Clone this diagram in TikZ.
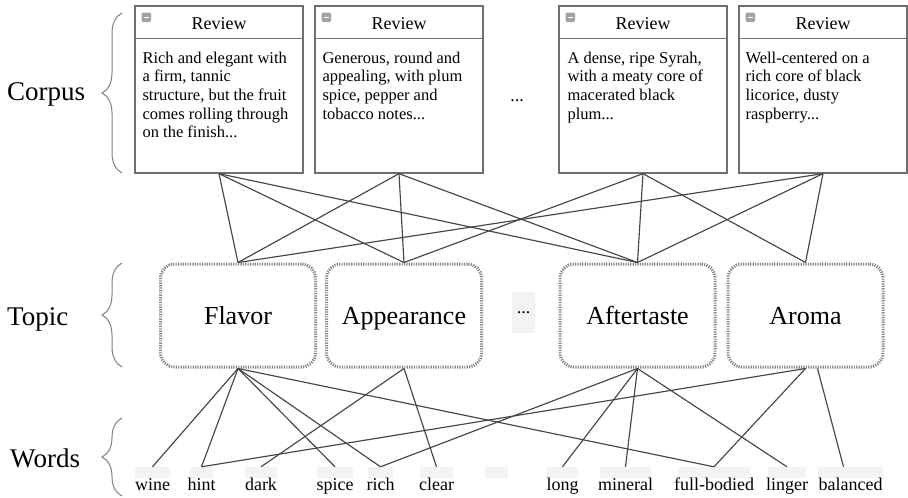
\documentclass[tikz,border=0pt]{standalone}
\usepackage{fontspec}
\setmainfont{Liberation Serif}
\usetikzlibrary{decorations.pathreplacing,calc}
\definecolor{edgec}{HTML}{454545}
\definecolor{boxc}{HTML}{707070}
\definecolor{dashc}{HTML}{858585}
\definecolor{faint}{HTML}{F3F3F3}
\definecolor{iconc}{HTML}{A2A2A2}
\definecolor{bracec}{HTML}{808080}
\begin{document}
\begin{tikzpicture}[x=1pt,y=-1pt,
  review/.style={draw=boxc,line width=1.3pt,fill=white,minimum width=168pt,minimum height=167pt,inner sep=0pt},
  hline/.style={draw=boxc,line width=1.3pt},
  icon/.style={fill=iconc,rounded corners=1.5pt,minimum size=9.5pt,inner sep=0pt,
    path picture={\draw[white,line width=1.1pt] ($(path picture bounding box.west)+(2.2pt,0)$) -- ($(path picture bounding box.east)+(-2.2pt,0)$);}},
  rtitle/.style={anchor=base,inner sep=0pt,font=\fontsize{18}{20}\selectfont},
  rbody/.style={anchor=north west,inner sep=0pt,align=left,font=\fontsize{16.5}{18.7}\selectfont},
  topic/.style={draw=dashc,line width=3pt,dash pattern=on 1.2pt off 1.2pt,rounded corners=14pt,fill=white,
    minimum width=155pt,minimum height=103pt,inner sep=0pt,text height=17pt,text depth=0pt,font=\fontsize{26}{28}\selectfont},
  dotsq/.style={fill=faint,minimum width=23pt,minimum height=41pt,inner sep=0pt,font=\fontsize{18}{20}\selectfont},
  dotsc/.style={inner sep=0pt,font=\fontsize{18}{20}\selectfont},
  wslot/.style={fill=faint,minimum height=11pt,inner sep=0pt},
  wtext/.style={anchor=base,inner sep=0pt,font=\fontsize{18}{20}\selectfont},
  label/.style={anchor=base west,inner sep=0pt,font=\fontsize{27}{30}\selectfont},
  bracel/.style={draw=bracec,line width=1pt,decorate,decoration={brace,amplitude=20pt}},
  edge/.style={draw=edgec,line width=1.15pt}
]
\useasboundingbox (0,0) rectangle (908,498);

% labels and braces
\node[label] (lcorpus) at (7,100) {Corpus};
\node[label] (ltopic) at (7,325) {Topic};
\node[label] (lwords) at (10,467) {Words};
\coordinate (b1s) at (122,173); \coordinate (b1e) at (122,13);
\coordinate (b2s) at (122,367); \coordinate (b2e) at (122,263);
\coordinate (b3s) at (122,496); \coordinate (b3e) at (122,418);
\draw[bracel] (b1s) -- (b1e);
\draw[bracel] (b2s) -- (b2e);
\draw[bracel] (b3s) -- (b3e);

% review boxes
\node[review] (r1) at (219,89.5) {};
\node[review] (r2) at (399,89.5) {};
\node[review] (r3) at (643,89.5) {};
\node[review] (r4) at (823,89.5) {};
\foreach \r in {r1,r2,r3,r4}{
  \draw[hline] ($(\r.north west)+(0,33)$) -- ($(\r.north east)+(0,33)$);
  \node[icon] (\r icon) at ($(\r.north west)+(12,12)$) {};
  \node[rtitle] (\r title) at ($(\r.north)+(0,24)$) {Review};
}
\node[rbody] (r1body) at ($(r1.north west)+(8,46)$) {Rich and elegant with\\a firm, tannic\\structure, but the fruit\\comes rolling through\\on the finish...};
\node[rbody] (r2body) at ($(r2.north west)+(8,46)$) {Generous, round and\\appealing, with plum\\spice, pepper and\\tobacco notes...};
\node[rbody] (r3body) at ($(r3.north west)+(9,46)$) {A dense, ripe Syrah,\\with a meaty core of\\macerated black\\plum...};
\node[rbody] (r4body) at ($(r4.north west)+(7,46)$) {Well-centered on a\\rich core of black\\licorice, dusty\\raspberry...};
\node[dotsc] (cdots) at (517,101) {...};

% word slots and texts
\foreach \n/\x/\w/\t in {wine/152.5/35/wine, hint/201.5/23/hint, dark/261/32/dark, spice/335/36/spice, rich/380.5/25/rich, clear/436.5/33/clear, blank/496.5/23/{}, long/562.5/31/long, mineral/625.5/51/mineral, fullbodied/714/72/full-bodied, linger/787/38/linger, balanced/850.5/65/balanced}{
  \node[wslot,minimum width=\w pt] (\n) at (\x,472.5) {};
  \node[wtext] (\n text) at (\x,490) {\t};
}

% topics
\node[topic] (flavor) at (238,315.5) {Flavor};
\node[topic] (appear) at (404,315.5) {Appearance};
\node[topic] (after) at (637.5,315.5) {Aftertaste};
\node[topic] (aroma) at (805.5,315.5) {Aroma};
\node[dotsq] (tdots) at (523.5,312.5) {...};

% edges
\foreach \a/\b in {r1/flavor,r1/appear,r1/after,r2/flavor,r2/appear,r2/after,r3/appear,r3/after,r3/aroma,r4/flavor,r4/after,r4/aroma}{
  \draw[edge] (\a.south) -- (\b.north);
}
\foreach \a/\b in {flavor/wine,flavor/hint,flavor/spice,flavor/rich,flavor/fullbodied,appear/dark,appear/clear,after/rich,after/long,after/mineral,after/linger,aroma/hint,aroma/fullbodied}{
  \draw[edge] (\a.south) -- (\b.north);
}
\draw[edge] ([xshift=12pt]aroma.south) -- ([xshift=-7pt]balanced.north);
\end{tikzpicture}
\end{document}
